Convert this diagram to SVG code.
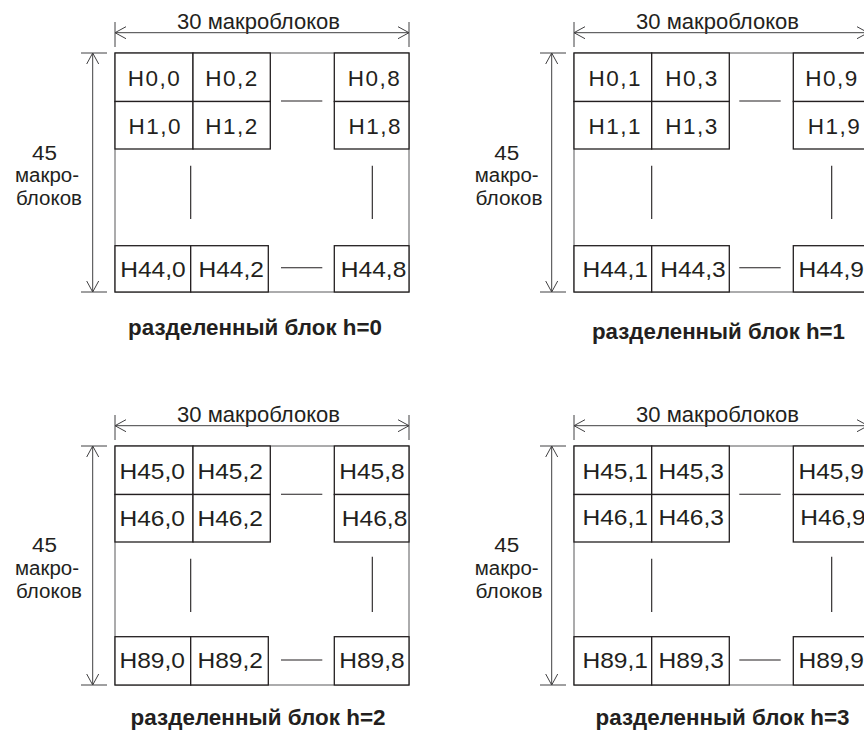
<svg xmlns="http://www.w3.org/2000/svg" width="864" height="733" viewBox="0 0 864 733">
  <style>
    text { font-family: "Liberation Sans", Arial, Helvetica, sans-serif; fill: #231f20; }
    .l2 { font-size: 22.5px; }
    .l3 { font-size: 22.5px; }
    .axis { font-size: 22px; }
    .side { font-size: 20px; }
    .cap { font-size: 22px; font-weight: bold; }
    .frame { fill: none; stroke: #58595b; stroke-width: 1; }
    .cell rect { fill: #ffffff; stroke: #231f20; stroke-width: 1.3; }
    .dim { fill: none; stroke: #414042; stroke-width: 1; }
    .ext { fill: none; stroke: #414042; stroke-width: 1; }
    .dash { fill: none; stroke: #231f20; stroke-width: 1.1; }
  </style>
  <defs>
    <marker id="openArrow" viewBox="-13 -7 14 14" refX="0" refY="0" markerWidth="14" markerHeight="14" markerUnits="userSpaceOnUse" orient="auto-start-reverse">
      <path d="M-11,-6 L0,0 L-11,6" fill="none" stroke="#414042" stroke-width="1"/>
    </marker>
  </defs>

  <!-- Sliced block h=0 -->
  <g id="block-h0">
    <rect class="frame" x="115" y="53" width="294" height="239"/>
    <g id="H0_0" class="cell"><rect x="115" y="53" width="78" height="48.5"/><text class="l2" x="127.8" y="85.5" textLength="52" lengthAdjust="spacing">H0,0</text></g>
    <g id="H0_2" class="cell"><rect x="193" y="53" width="77.3" height="48.5"/><text class="l2" x="205.2" y="85.5" textLength="52" lengthAdjust="spacing">H0,2</text></g>
    <g id="H0_8" class="cell"><rect x="334.3" y="53" width="74.7" height="48.5"/><text class="l2" x="347.8" y="85.5" textLength="52" lengthAdjust="spacing">H0,8</text></g>
    <g id="H1_0" class="cell"><rect x="115" y="101.5" width="78" height="47.5"/><text class="l2" x="128.5" y="133.5" textLength="52" lengthAdjust="spacing">H1,0</text></g>
    <g id="H1_2" class="cell"><rect x="193" y="101.5" width="77.3" height="47.5"/><text class="l2" x="205.2" y="133.5" textLength="52" lengthAdjust="spacing">H1,2</text></g>
    <g id="H1_8" class="cell"><rect x="334.3" y="101.5" width="74.7" height="47.5"/><text class="l2" x="348.5" y="133.5" textLength="52" lengthAdjust="spacing">H1,8</text></g>
    <g id="H44_0" class="cell"><rect x="115" y="245.7" width="75.7" height="46.3"/><text class="l3" x="120.2" y="276.5" textLength="65.5" lengthAdjust="spacingAndGlyphs">H44,0</text></g>
    <g id="H44_2" class="cell"><rect x="190.7" y="245.7" width="77.6" height="46.3"/><text class="l3" x="198.5" y="276.5" textLength="65.5" lengthAdjust="spacingAndGlyphs">H44,2</text></g>
    <g id="H44_8" class="cell"><rect x="334.3" y="245.7" width="74.7" height="46.3"/><text class="l3" x="340.8" y="276.5" textLength="65.5" lengthAdjust="spacingAndGlyphs">H44,8</text></g>
    <text class="axis" x="258.5" y="29" text-anchor="middle" textLength="163" lengthAdjust="spacingAndGlyphs">30 макроблоков</text>
    <text class="side" x="44.5" y="159.5" text-anchor="middle" textLength="25" lengthAdjust="spacingAndGlyphs">45</text>
    <text class="side" x="47" y="182.2" text-anchor="middle" textLength="64" lengthAdjust="spacingAndGlyphs">макро-</text>
    <text class="side" x="49" y="205" text-anchor="middle" textLength="66" lengthAdjust="spacingAndGlyphs">блоков</text>
  </g>

  <!-- Sliced block h=1 -->
  <g id="block-h1" transform="translate(459,0)">
    <rect class="frame" x="115" y="53" width="294" height="239"/>
    <g id="H0_1" class="cell"><rect x="115" y="53" width="77.7" height="48.5"/><text class="l2" x="129.5" y="86" textLength="52" lengthAdjust="spacing">H0,1</text></g>
    <g id="H0_3" class="cell"><rect x="192.7" y="53" width="77.6" height="48.5"/><text class="l2" x="206.2" y="86" textLength="52" lengthAdjust="spacing">H0,3</text></g>
    <g id="H0_9" class="cell"><rect x="334.3" y="53" width="74.7" height="48.5"/><text class="l2" x="346.2" y="86" textLength="52" lengthAdjust="spacing">H0,9</text></g>
    <g id="H1_1" class="cell"><rect x="115" y="101.5" width="77.7" height="47.5"/><text class="l2" x="129.5" y="133.5" textLength="52" lengthAdjust="spacing">H1,1</text></g>
    <g id="H1_3" class="cell"><rect x="192.7" y="101.5" width="77.6" height="47.5"/><text class="l2" x="206.2" y="133.5" textLength="52" lengthAdjust="spacing">H1,3</text></g>
    <g id="H1_9" class="cell"><rect x="334.3" y="101.5" width="74.7" height="47.5"/><text class="l2" x="348.8" y="133.5" textLength="52" lengthAdjust="spacing">H1,9</text></g>
    <g id="H44_1" class="cell"><rect x="115" y="245.7" width="77.7" height="46.3"/><text class="l3" x="123.5" y="276.5" textLength="65.5" lengthAdjust="spacingAndGlyphs">H44,1</text></g>
    <g id="H44_3" class="cell"><rect x="192.7" y="245.7" width="77.6" height="46.3"/><text class="l3" x="201.2" y="276.5" textLength="65.5" lengthAdjust="spacingAndGlyphs">H44,3</text></g>
    <g id="H44_9" class="cell"><rect x="334.3" y="245.7" width="74.7" height="46.3"/><text class="l3" x="339.5" y="276.5" textLength="65.5" lengthAdjust="spacingAndGlyphs">H44,9</text></g>
    <text class="axis" x="258.5" y="29" text-anchor="middle" textLength="163" lengthAdjust="spacingAndGlyphs">30 макроблоков</text>
    <text class="side" x="47.7" y="159.5" text-anchor="middle" textLength="25" lengthAdjust="spacingAndGlyphs">45</text>
    <text class="side" x="47.7" y="182.2" text-anchor="middle" textLength="64" lengthAdjust="spacingAndGlyphs">макро-</text>
    <text class="side" x="50" y="205" text-anchor="middle" textLength="67" lengthAdjust="spacingAndGlyphs">блоков</text>
  </g>

  <!-- Sliced block h=2 -->
  <g id="block-h2" transform="translate(0,393)">
    <rect class="frame" x="115" y="53" width="294" height="239"/>
    <g id="H45_0" class="cell"><rect x="115" y="53" width="78" height="48.5"/><text class="l3" x="119.5" y="85.5" textLength="65.5" lengthAdjust="spacingAndGlyphs">H45,0</text></g>
    <g id="H45_2" class="cell"><rect x="193" y="53" width="77.3" height="48.5"/><text class="l3" x="197.5" y="85.5" textLength="65.5" lengthAdjust="spacingAndGlyphs">H45,2</text></g>
    <g id="H45_8" class="cell"><rect x="334.3" y="53" width="74.7" height="48.5"/><text class="l3" x="339.2" y="85.5" textLength="65.5" lengthAdjust="spacingAndGlyphs">H45,8</text></g>
    <g id="H46_0" class="cell"><rect x="115" y="101.5" width="78" height="47.5"/><text class="l3" x="119.5" y="132.5" textLength="65.5" lengthAdjust="spacingAndGlyphs">H46,0</text></g>
    <g id="H46_2" class="cell"><rect x="193" y="101.5" width="77.3" height="47.5"/><text class="l3" x="197.5" y="132.5" textLength="65.5" lengthAdjust="spacingAndGlyphs">H46,2</text></g>
    <g id="H46_8" class="cell"><rect x="334.3" y="101.5" width="74.7" height="47.5"/><text class="l3" x="341.8" y="132.5" textLength="65.5" lengthAdjust="spacingAndGlyphs">H46,8</text></g>
    <g id="H89_0" class="cell"><rect x="115" y="243.7" width="75.7" height="48.3"/><text class="l3" x="119.5" y="275" textLength="65.5" lengthAdjust="spacingAndGlyphs">H89,0</text></g>
    <g id="H89_2" class="cell"><rect x="190.7" y="243.7" width="77.6" height="48.3"/><text class="l3" x="197.5" y="275" textLength="65.5" lengthAdjust="spacingAndGlyphs">H89,2</text></g>
    <g id="H89_8" class="cell"><rect x="334.3" y="243.7" width="74.7" height="48.3"/><text class="l3" x="339.2" y="275" textLength="65.5" lengthAdjust="spacingAndGlyphs">H89,8</text></g>
    <text class="axis" x="258.5" y="29" text-anchor="middle" textLength="163" lengthAdjust="spacingAndGlyphs">30 макроблоков</text>
    <text class="side" x="44.5" y="159" text-anchor="middle" textLength="25" lengthAdjust="spacingAndGlyphs">45</text>
    <text class="side" x="47" y="181.7" text-anchor="middle" textLength="64" lengthAdjust="spacingAndGlyphs">макро-</text>
    <text class="side" x="49" y="204.5" text-anchor="middle" textLength="66" lengthAdjust="spacingAndGlyphs">блоков</text>
  </g>

  <!-- Sliced block h=3 -->
  <g id="block-h3" transform="translate(459,393)">
    <rect class="frame" x="115" y="53" width="294" height="239"/>
    <g id="H45_1" class="cell"><rect x="115" y="53" width="77.7" height="48.5"/><text class="l3" x="123.5" y="86" textLength="65.5" lengthAdjust="spacingAndGlyphs">H45,1</text></g>
    <g id="H45_3" class="cell"><rect x="192.7" y="53" width="77.6" height="48.5"/><text class="l3" x="199.5" y="86" textLength="65.5" lengthAdjust="spacingAndGlyphs">H45,3</text></g>
    <g id="H45_9" class="cell"><rect x="334.3" y="53" width="74.7" height="48.5"/><text class="l3" x="339.5" y="86" textLength="65.5" lengthAdjust="spacingAndGlyphs">H45,9</text></g>
    <g id="H46_1" class="cell"><rect x="115" y="101.5" width="77.7" height="47.5"/><text class="l3" x="123.5" y="132" textLength="65.5" lengthAdjust="spacingAndGlyphs">H46,1</text></g>
    <g id="H46_3" class="cell"><rect x="192.7" y="101.5" width="77.6" height="47.5"/><text class="l3" x="199.5" y="132" textLength="65.5" lengthAdjust="spacingAndGlyphs">H46,3</text></g>
    <g id="H46_9" class="cell"><rect x="334.3" y="101.5" width="74.7" height="47.5"/><text class="l3" x="341.2" y="132" textLength="65.5" lengthAdjust="spacingAndGlyphs">H46,9</text></g>
    <g id="H89_1" class="cell"><rect x="115" y="243.7" width="77.7" height="48.3"/><text class="l3" x="123.5" y="275" textLength="65.5" lengthAdjust="spacingAndGlyphs">H89,1</text></g>
    <g id="H89_3" class="cell"><rect x="192.7" y="243.7" width="77.6" height="48.3"/><text class="l3" x="199.5" y="275" textLength="65.5" lengthAdjust="spacingAndGlyphs">H89,3</text></g>
    <g id="H89_9" class="cell"><rect x="334.3" y="243.7" width="74.7" height="48.3"/><text class="l3" x="339.5" y="275" textLength="65.5" lengthAdjust="spacingAndGlyphs">H89,9</text></g>
    <text class="axis" x="258.5" y="29" text-anchor="middle" textLength="163" lengthAdjust="spacingAndGlyphs">30 макроблоков</text>
    <text class="side" x="47.7" y="159" text-anchor="middle" textLength="25" lengthAdjust="spacingAndGlyphs">45</text>
    <text class="side" x="47.7" y="181.7" text-anchor="middle" textLength="64" lengthAdjust="spacingAndGlyphs">макро-</text>
    <text class="side" x="50" y="204.5" text-anchor="middle" textLength="67" lengthAdjust="spacingAndGlyphs">блоков</text>
  </g>

  <!-- Dimension lines and continuation dashes -->
  <g id="connectors">
    <g transform="translate(0,0)">
      <path class="ext" d="M115,22 V47 M409,22 V47 M81,53 H107 M81,292 H107"/>
      <path class="dim" d="M115,32.7 H409" marker-start="url(#openArrow)" marker-end="url(#openArrow)"/>
      <path class="dim" d="M92.7,53 V292" marker-start="url(#openArrow)" marker-end="url(#openArrow)"/>
      <path class="dash" d="M281,101 H322.3 M281,267.7 H322.3 M190.7,165.7 V219 M372.3,165.7 V219"/>
    </g>
    <g transform="translate(459,0)">
      <path class="ext" d="M115,22 V47 M409,22 V47 M81,53 H107 M81,292 H107"/>
      <path class="dim" d="M115,32.7 H409" marker-start="url(#openArrow)" marker-end="url(#openArrow)"/>
      <path class="dim" d="M92.7,53 V292" marker-start="url(#openArrow)" marker-end="url(#openArrow)"/>
      <path class="dash" d="M280.3,101 H321.7 M280.3,267.7 H321.7 M192.7,165.7 V219 M372.7,165.7 V219"/>
    </g>
    <g transform="translate(0,393)">
      <path class="ext" d="M115,22 V47 M409,22 V47 M81,53 H107 M81,292 H107"/>
      <path class="dim" d="M115,32.7 H409" marker-start="url(#openArrow)" marker-end="url(#openArrow)"/>
      <path class="dim" d="M92.7,53 V292" marker-start="url(#openArrow)" marker-end="url(#openArrow)"/>
      <path class="dash" d="M281,101.3 H322.3 M281,267 H322.3 M190.7,165.7 V219 M372.3,163.7 V219"/>
    </g>
    <g transform="translate(459,393)">
      <path class="ext" d="M115,22 V47 M409,22 V47 M81,53 H107 M81,292 H107"/>
      <path class="dim" d="M115,32.7 H409" marker-start="url(#openArrow)" marker-end="url(#openArrow)"/>
      <path class="dim" d="M92.7,53 V292" marker-start="url(#openArrow)" marker-end="url(#openArrow)"/>
      <path class="dash" d="M280.3,101.3 H321.7 M280.3,267 H321.7 M192.7,165.7 V219 M372.7,163.7 V219"/>
    </g>
  </g>

  <!-- Captions -->
  <text class="cap" x="128" y="335" textLength="254" lengthAdjust="spacingAndGlyphs">разделенный блок h=0</text>
  <text class="cap" x="592" y="339" textLength="253" lengthAdjust="spacingAndGlyphs">разделенный блок h=1</text>
  <text class="cap" x="130.5" y="725" textLength="255" lengthAdjust="spacingAndGlyphs">разделенный блок h=2</text>
  <text class="cap" x="595.5" y="725" textLength="254" lengthAdjust="spacingAndGlyphs">разделенный блок h=3</text>
</svg>
